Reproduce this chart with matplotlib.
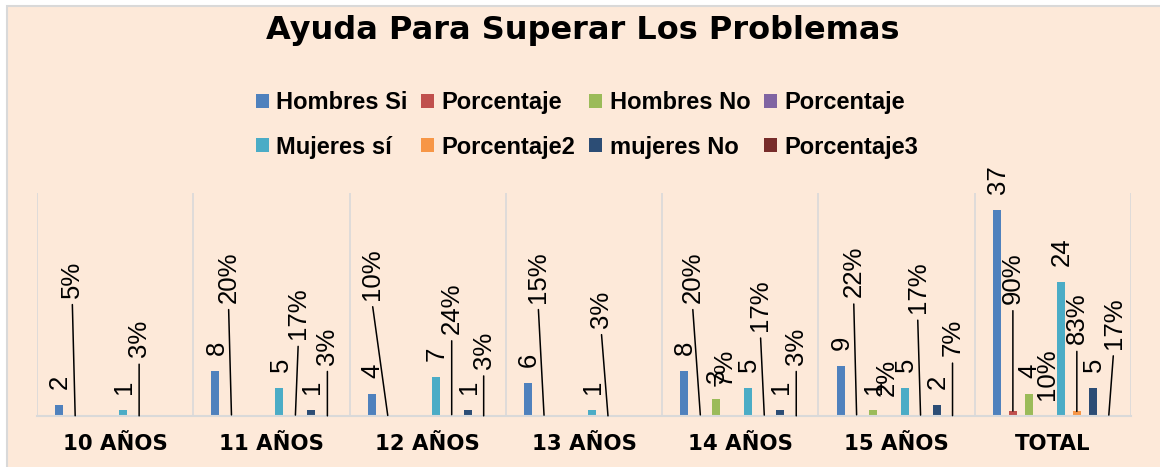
import numpy as np
import matplotlib.pyplot as plt
from matplotlib.patches import Rectangle

# datos
categorias = ['10 AÑOS', '11 AÑOS', '12 AÑOS', '13 AÑOS', '14 AÑOS', '15 AÑOS', 'TOTAL']
hombres_si = [2, 8, 4, 6, 8, 9, 37]
porc_hsi = [0.05, 0.20, 0.10, 0.15, 0.20, 0.22, 0.90]
hombres_no = [0, 0, 0, 0, 3, 1, 4]
porc_hno = [0, 0, 0, 0, 0.07, 0.02, 0.10]
mujeres_si = [1, 5, 7, 1, 5, 5, 24]
porc_msi = [0.03, 0.17, 0.24, 0.03, 0.17, 0.17, 0.83]
mujeres_no = [0, 1, 1, 0, 1, 2, 5]
porc_mno = [0, 0.03, 0.03, 0, 0.03, 0.07, 0.17]

series = [
    ('Hombres Si', hombres_si, '#4F81BD', False),
    ('Porcentaje', porc_hsi, '#C0504D', True),
    ('Hombres No', hombres_no, '#9BBB59', False),
    ('Porcentaje', porc_hno, '#8064A2', True),
    ('Mujeres sí', mujeres_si, '#4BACC6', False),
    ('Porcentaje2', porc_msi, '#F79646', True),
    ('mujeres No', mujeres_no, '#2C4D75', False),
    ('Porcentaje3', porc_mno, '#772C2A', True),
]

# % labels that were dragged in the original: leader top (data units), sideways shift (px)
moved = {
    1: ([19.8, 18.9, 19.4, 18.9, 18.9, 19.9, 18.7], [-3, -3, -16, -6, -8, -3, 0], True),
    3: ([0, 0, 0, 0, 5.3, 3.5, 2.9], [0, 0, 0, 0, -8, -2, 2], False),
    5: ([9.1, 12.3, 13.3, 14.4, 13.8, 17.0, 11.4], [0, 3, 0, -7, -4, -3, 0], True),
    7: ([0, 7.8, 7.0, 0, 7.8, 9.3, 10.6], [0, 0, 0, 0, 0, 0, 5], True),
}

W, H = 1160, 467
fig = plt.figure(figsize=(W / 100, H / 100), dpi=100)
fig.patches.append(Rectangle((7 / W, -0.01), 1, (H - 6) / H + 0.01, transform=fig.transFigure,
                             fc='#FDE9D9', ec='#D9D9D9', lw=1.5, zorder=-5))

ax = fig.add_axes([37 / W, (H - 416) / H, (1131 - 37) / W, (416 - 193) / H])
ax.patch.set_alpha(0)

x = np.arange(len(categorias))
slot = 16 / 156.4
bw = 8 / 156.4
px_x = 1 / 156.4      # one pixel in x data units
px_y = 40 / 223       # one pixel in y data units
lblfont = dict(family='Liberation Sans', size=18.5, color='black')

handles = []
for i, (name, vals, col, pct) in enumerate(series):
    xs = x + (i - 3.5) * slot
    b = ax.bar(xs, vals, bw, color=col, label=name, zorder=2)
    handles.append(b)
    for j, v in enumerate(vals):
        if v == 0:
            continue
        txt = f'{round(v * 100)}%' if pct else str(v)
        if i in moved:
            tops, dxs, leader = moved[i]
            lx = xs[j] + dxs[j] * px_x
            if leader:
                ax.annotate(txt, (xs[j], v), xytext=(lx, tops[j] + 8 * px_y),
                            rotation=90, ha='center', va='bottom', **lblfont,
                            arrowprops=dict(arrowstyle='-', color='black', lw=1.1,
                                            patchA=None, shrinkA=5, shrinkB=0,
                                            relpos=(0.5, 0)))
            else:
                ax.annotate(txt, (xs[j], v), xytext=(lx, tops[j]),
                            rotation=90, ha='center', va='bottom', **lblfont)
        else:
            ax.annotate(txt, (xs[j], v), xytext=(1, 16), textcoords='offset pixels',
                        rotation=90, ha='center', va='bottom', **lblfont)

ax.set_xlim(-0.5, 6.5)
ax.set_ylim(0, 40)
ax.set_yticks([])
ax.set_xticks(x)
ax.set_xticklabels(categorias, family='DejaVu Sans', weight='bold', size=15.3)
ax.set_xticks(np.arange(-0.5, 7, 1), minor=True)
ax.tick_params(which='both', length=0)
ax.tick_params(axis='x', pad=13)
ax.grid(which='minor', axis='x', color='#D9D9D9', lw=1.2, zorder=0)
for s in ['top', 'left', 'right']:
    ax.spines[s].set_visible(False)
ax.spines['bottom'].set_color('#D9D9D9')
ax.spines['bottom'].set_linewidth(1.5)

order = [0, 4, 1, 5, 2, 6, 3, 7]
fig.legend([handles[k] for k in order], [series[k][0] for k in order],
           loc='center', bbox_to_anchor=(587 / W, (H - 125) / H), ncol=4, frameon=False,
           prop=dict(family='Liberation Sans', weight='bold', size=17),
           handlelength=0.55, handleheight=0.55, handletextpad=0.3,
           columnspacing=0.6, labelspacing=0.9)

fig.text(583 / W, (H - 31) / H, 'Ayuda Para Superar Los Problemas', ha='center', va='center',
         family='DejaVu Sans', weight='bold', size=23)

fig.savefig('out.png', dpi=100, facecolor='white')
